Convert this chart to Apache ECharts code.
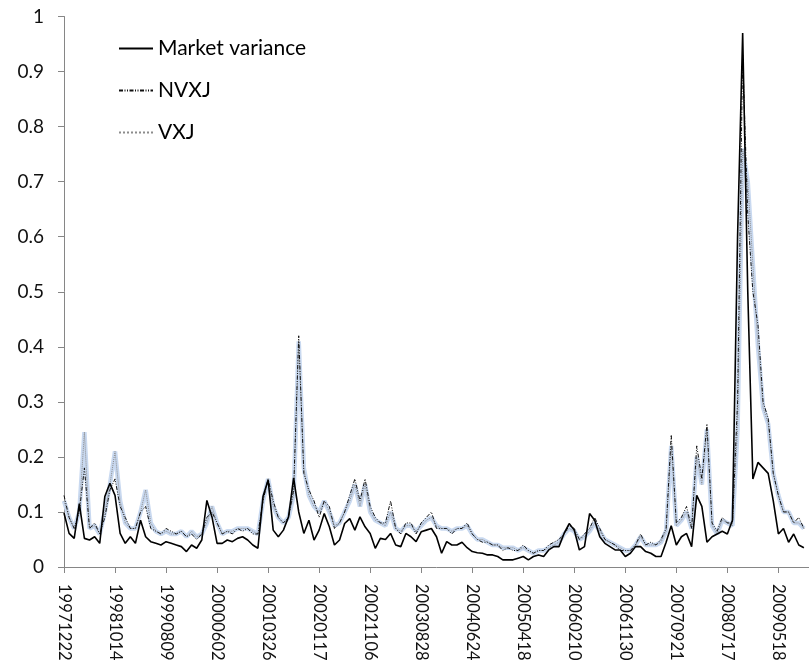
<!DOCTYPE html>
<html>
<head>
<meta charset="utf-8">
<script src="https://cdn.jsdelivr.net/npm/echarts@6/dist/echarts.min.js"></script>
<style>
  html, body { margin: 0; padding: 0; background: #fff; }
  #chart_variance { width: 809px; height: 664px; }
</style>
</head>
<body>
<div id="chart_variance"></div>
<script>
// one label every 10 observations on the x axis
var tickLabels = ['19971222', '19981014', '19990809', '20000602', '20010326', '20020117', '20021106',
  '20030828', '20040624', '20050418', '20060210', '20061130', '20070921', '20080717', '20090518'];

var marketVariance = [
  0.098, 0.061, 0.052, 0.115, 0.052, 0.049, 0.055, 0.043, 0.128, 0.152,
  0.130, 0.061, 0.043, 0.055, 0.043, 0.085, 0.055, 0.046, 0.043, 0.040,
  0.046, 0.043, 0.040, 0.037, 0.028, 0.040, 0.034, 0.049, 0.121, 0.091,
  0.043, 0.043, 0.049, 0.046, 0.052, 0.055, 0.049, 0.040, 0.034, 0.128,
  0.158, 0.067, 0.055, 0.067, 0.091, 0.162, 0.100, 0.061, 0.085, 0.049,
  0.067, 0.097, 0.073, 0.040, 0.049, 0.079, 0.088, 0.067, 0.091, 0.073,
  0.061, 0.034, 0.052, 0.050, 0.061, 0.040, 0.037, 0.061, 0.055, 0.046,
  0.064, 0.067, 0.070, 0.055, 0.025, 0.046, 0.040, 0.040, 0.045, 0.035,
  0.028, 0.026, 0.025, 0.022, 0.022, 0.019, 0.013, 0.013, 0.013, 0.016,
  0.019, 0.013, 0.019, 0.022, 0.019, 0.031, 0.037, 0.037, 0.061, 0.079,
  0.067, 0.031, 0.037, 0.097, 0.085, 0.055, 0.043, 0.037, 0.031, 0.031,
  0.019, 0.025, 0.037, 0.037, 0.028, 0.025, 0.019, 0.019, 0.045, 0.075,
  0.040, 0.055, 0.061, 0.037, 0.130, 0.110, 0.045, 0.055, 0.060, 0.065,
  0.060, 0.085, 0.600, 0.970, 0.500, 0.160, 0.190, 0.180, 0.170, 0.120,
  0.060, 0.070, 0.045, 0.060, 0.040, 0.035
];

var nvxj = [
  0.13, 0.09, 0.07, 0.10, 0.18, 0.07, 0.08, 0.06, 0.09, 0.14,
  0.16, 0.11, 0.09, 0.07, 0.07, 0.10, 0.11, 0.07, 0.065, 0.06,
  0.07, 0.065, 0.06, 0.065, 0.055, 0.06, 0.05, 0.06, 0.09, 0.10,
  0.08, 0.06, 0.065, 0.06, 0.07, 0.065, 0.07, 0.06, 0.06, 0.12,
  0.16, 0.12, 0.09, 0.08, 0.09, 0.14, 0.42, 0.17, 0.14, 0.12,
  0.09, 0.12, 0.11, 0.07, 0.08, 0.10, 0.13, 0.16, 0.12, 0.16,
  0.11, 0.09, 0.08, 0.08, 0.12, 0.07, 0.06, 0.08, 0.08, 0.06,
  0.08, 0.09, 0.10, 0.07, 0.07, 0.07, 0.06, 0.07, 0.07, 0.08,
  0.06, 0.05, 0.045, 0.045, 0.04, 0.04, 0.03, 0.035, 0.03, 0.03,
  0.04, 0.03, 0.025, 0.03, 0.03, 0.04, 0.045, 0.05, 0.06, 0.075,
  0.07, 0.05, 0.06, 0.07, 0.09, 0.07, 0.05, 0.045, 0.04, 0.03,
  0.03, 0.03, 0.04, 0.06, 0.04, 0.045, 0.04, 0.05, 0.07, 0.24,
  0.08, 0.09, 0.11, 0.07, 0.22, 0.16, 0.26, 0.08, 0.065, 0.09,
  0.08, 0.08, 0.30, 0.93, 0.64, 0.50, 0.44, 0.30, 0.27, 0.17,
  0.13, 0.10, 0.10, 0.08, 0.09, 0.07
];

var vxj = [
  0.12, 0.09, 0.07, 0.10, 0.245, 0.07, 0.075, 0.06, 0.10, 0.15,
  0.21, 0.12, 0.08, 0.07, 0.07, 0.10, 0.14, 0.08, 0.065, 0.06,
  0.065, 0.06, 0.06, 0.065, 0.055, 0.065, 0.055, 0.06, 0.08, 0.11,
  0.08, 0.06, 0.065, 0.065, 0.07, 0.07, 0.07, 0.065, 0.06, 0.12,
  0.16, 0.11, 0.09, 0.08, 0.09, 0.13, 0.41, 0.18, 0.13, 0.11,
  0.10, 0.12, 0.10, 0.075, 0.08, 0.10, 0.12, 0.15, 0.11, 0.15,
  0.10, 0.085, 0.08, 0.075, 0.10, 0.07, 0.065, 0.075, 0.075, 0.065,
  0.075, 0.085, 0.09, 0.075, 0.07, 0.07, 0.065, 0.07, 0.07, 0.075,
  0.06, 0.05, 0.05, 0.045, 0.04, 0.04, 0.035, 0.035, 0.035, 0.03,
  0.035, 0.03, 0.025, 0.03, 0.03, 0.035, 0.04, 0.045, 0.06, 0.07,
  0.065, 0.05, 0.055, 0.065, 0.08, 0.065, 0.05, 0.045, 0.04, 0.035,
  0.03, 0.03, 0.04, 0.055, 0.04, 0.04, 0.04, 0.045, 0.065, 0.22,
  0.075, 0.085, 0.10, 0.07, 0.20, 0.15, 0.25, 0.075, 0.06, 0.085,
  0.08, 0.075, 0.25, 0.76, 0.70, 0.55, 0.40, 0.29, 0.26, 0.17,
  0.13, 0.10, 0.10, 0.08, 0.08, 0.07
];

function toPairs(values) {
  return values.map(function (v, i) { return [i, v]; });
}

var myChart = echarts.init(document.getElementById('chart_variance'));
var fontName = 'Lato';

var option = {
  animation: false,
  backgroundColor: '#fff',
  textStyle: { fontFamily: fontName },
  grid: { left: 64, right: 0, top: 16.5, bottom: 97, outerBoundsMode: 'none' },
  legend: {
    orient: 'vertical',
    left: 118,
    top: 38,
    padding: 0,
    icon: 'inherit',
    itemWidth: 34,
    itemHeight: 20,
    itemGap: 21,
    itemStyle: { opacity: 0 },
    textStyle: { fontFamily: fontName, fontSize: 21, color: '#000' },
    data: [
      { name: 'Market variance' },
      { name: 'NVXJ' },
      { name: 'VXJ' }
    ]
  },
  xAxis: {
    type: 'value',
    min: 0,
    max: tickLabels.length * 10 - 4,
    interval: 10,
    splitLine: { show: false },
    axisLine: { lineStyle: { color: '#868686', width: 1 } },
    axisTick: { show: true, length: 6, lineStyle: { color: '#868686' } },
    axisLabel: {
      rotate: -90,
      margin: 17,
      fontFamily: fontName,
      fontSize: 16.5,
      color: '#111',
      showMaxLabel: false,
      formatter: function (val) {
        if (val % 10 !== 0) return '';
        return tickLabels[val / 10] || '';
      }
    }
  },
  yAxis: {
    type: 'value',
    min: 0,
    max: 1,
    interval: 0.1,
    splitLine: { show: false },
    axisLine: { show: true, lineStyle: { color: '#868686', width: 1 } },
    axisTick: { show: true, length: 6, lineStyle: { color: '#868686' } },
    axisLabel: {
      margin: 20,
      fontFamily: fontName,
      fontSize: 19,
      color: '#111'
    }
  },
  series: [
    {
      // soft blue band under the VXJ line
      name: 'VXJ band',
      type: 'line',
      symbol: 'none',
      z: 1,
      silent: true,
      lineStyle: { color: '#c9d9f0', width: 4.5 },
      data: toPairs(vxj)
    },
    {
      name: 'VXJ',
      type: 'line',
      symbol: 'none',
      z: 2,
      lineStyle: { color: '#8c8c8c', width: 1, type: 'dotted' },
      data: toPairs(vxj)
    },
    {
      name: 'NVXJ',
      type: 'line',
      symbol: 'none',
      z: 3,
      lineStyle: { color: '#111', width: 1, type: [4, 1.5, 1, 1.5, 1, 1.5] },
      data: toPairs(nvxj)
    },
    {
      name: 'Market variance',
      type: 'line',
      symbol: 'none',
      z: 4,
      lineStyle: { color: '#000', width: 1.6 },
      data: toPairs(marketVariance)
    }
  ]
};

myChart.setOption(option);
window.addEventListener('resize', function () {
  myChart.resize();
});
</script>
</body>
</html>
